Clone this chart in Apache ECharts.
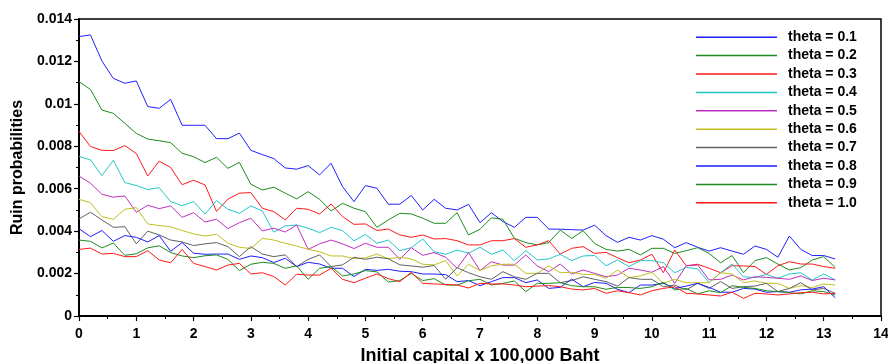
<!DOCTYPE html>
<html>
<head>
<meta charset="utf-8">
<script src="https://cdn.jsdelivr.net/npm/echarts@6/dist/echarts.min.js"></script>
<style>html,body{margin:0;padding:0;background:#fff}#c{width:888px;height:363px}</style>
</head>
<body>
<div id="c"></div>
<script>
const capital = [0,0.2,0.4,0.6,0.8,1,1.2,1.4,1.6,1.8,2,2.2,2.4,2.6,2.8,3,3.2,3.4,3.6,3.8,4,4.2,4.4,4.6,4.8,5,5.2,5.4,5.6,5.8,6,6.2,6.4,6.6,6.8,7,7.2,7.4,7.6,7.8,8,8.2,8.4,8.6,8.8,9,9.2,9.4,9.6,9.8,10,10.2,10.4,10.6,10.8,11,11.2,11.4,11.6,11.8,12,12.2,12.4,12.6,12.8,13,13.2];
const seriesNames = ['theta = 0.1','theta = 0.2','theta = 0.3','theta = 0.4','theta = 0.5','theta = 0.6','theta = 0.7','theta = 0.8','theta = 0.9','theta = 1.0'];
const theta01 = [0.01317,0.01325,0.01202,0.0112,0.01097,0.01108,0.00987,0.00979,0.01021,0.00899,
0.00899,0.00899,0.00836,0.00836,0.00862,0.00781,0.00761,0.00742,0.00698,0.00692,
0.00709,0.00665,0.0072,0.0061,0.00539,0.00615,0.00602,0.00527,0.00527,0.00568,
0.005,0.0055,0.00508,0.005,0.00526,0.0044,0.00487,0.00445,0.00418,0.00465,
0.00465,0.0041,0.00409,0.00407,0.00405,0.00428,0.00379,0.00347,0.00371,0.00358,
0.00379,0.00362,0.00322,0.00346,0.00324,0.00306,0.00322,0.00306,0.00291,0.0033,
0.00314,0.00277,0.00377,0.00314,0.00285,0.00285,0.00269];
const theta02 = [0.01105,0.01068,0.00971,0.00955,0.00908,0.00861,0.00834,0.00826,0.00817,0.00767,
0.00751,0.00723,0.00748,0.00696,0.00724,0.00621,0.00594,0.00607,0.00579,0.00552,
0.00586,0.0055,0.00495,0.00531,0.00508,0.00492,0.00418,0.00453,0.00484,0.00481,
0.00461,0.00437,0.00437,0.00487,0.00382,0.00409,0.00463,0.00456,0.00366,0.00346,
0.00335,0.00346,0.00405,0.00366,0.00402,0.00342,0.00314,0.00306,0.00314,0.00288,
0.00319,0.00319,0.00295,0.00308,0.00322,0.00295,0.00251,0.00285,0.00204,0.00261,
0.00275,0.00245,0.00217,0.00228,0.00264,0.0028,0.00229];
const theta03 = [0.0087,0.00799,0.00781,0.0078,0.00803,0.00766,0.0066,0.0073,0.007,0.00619,
0.0064,0.00618,0.00493,0.00551,0.00579,0.00582,0.00508,0.00492,0.00453,0.00508,
0.00503,0.00481,0.00528,0.00469,0.00432,0.00434,0.00403,0.0041,0.00382,0.00371,
0.00382,0.00363,0.00365,0.00355,0.00335,0.00335,0.00355,0.00355,0.00365,0.00324,
0.00335,0.00355,0.00292,0.00319,0.00327,0.00295,0.003,0.00275,0.00251,0.00264,
0.00291,0.00204,0.00311,0.00237,0.00244,0.00225,0.00204,0.00237,0.00236,0.00233,
0.00196,0.00237,0.00256,0.00245,0.00245,0.00233,0.00225];
const theta04 = [0.00752,0.00736,0.00662,0.00734,0.00629,0.00615,0.00596,0.00605,0.00539,0.0052,
0.00539,0.0048,0.00544,0.00503,0.00484,0.00519,0.00495,0.00395,0.00425,0.00429,
0.00414,0.00393,0.00418,0.00403,0.00354,0.00385,0.00343,0.00358,0.00308,0.00322,
0.00363,0.00303,0.00291,0.00311,0.00296,0.00324,0.00291,0.00311,0.00261,0.00308,
0.00264,0.00269,0.00291,0.00261,0.00283,0.00285,0.00237,0.00264,0.00233,0.00261,
0.00261,0.00251,0.00204,0.00229,0.00222,0.00157,0.00204,0.00245,0.00185,0.00181,
0.00196,0.00178,0.00198,0.00204,0.0017,0.00198,0.0017];
const theta05 = [0.0066,0.00626,0.00574,0.0056,0.00566,0.00489,0.00522,0.00506,0.00519,0.00465,
0.00487,0.00443,0.00456,0.00412,0.0044,0.00461,0.00401,0.00414,0.00396,0.00429,
0.00314,0.0034,0.00358,0.0034,0.00318,0.00343,0.00324,0.00324,0.00267,0.00322,
0.00286,0.00299,0.00277,0.00225,0.00299,0.00214,0.00256,0.0024,0.0024,0.00288,
0.00236,0.00209,0.00245,0.00198,0.00217,0.00201,0.00185,0.00193,0.00225,0.00217,
0.00206,0.00233,0.00154,0.00237,0.0024,0.0017,0.00173,0.00193,0.0017,0.00185,
0.00182,0.00178,0.00173,0.00189,0.00167,0.00178,0.0017];
const theta06 = [0.0055,0.00534,0.00468,0.00456,0.00503,0.00511,0.00434,0.00426,0.00421,0.00403,
0.00387,0.00377,0.00385,0.00343,0.00324,0.00318,0.00366,0.00358,0.00343,0.0033,
0.00314,0.00303,0.00283,0.00283,0.0027,0.00274,0.00292,0.0027,0.00277,0.00269,
0.00244,0.00241,0.00261,0.00189,0.00244,0.00214,0.00237,0.00244,0.00244,0.00201,
0.00201,0.00237,0.00204,0.00206,0.00196,0.00196,0.00178,0.00217,0.00181,0.00189,
0.00206,0.00154,0.00173,0.00157,0.00157,0.00157,0.00204,0.00198,0.00157,0.00165,
0.00154,0.00154,0.0013,0.00143,0.00134,0.00151,0.00146];
const theta07 = [0.00458,0.00489,0.00453,0.00418,0.00421,0.0034,0.004,0.00382,0.00358,0.00349,
0.00332,0.0034,0.00346,0.00327,0.0028,0.00327,0.00292,0.0028,0.00288,0.00233,
0.00267,0.00288,0.00233,0.00241,0.00277,0.00267,0.00277,0.0027,0.00241,0.00236,
0.0023,0.00238,0.00173,0.00228,0.00204,0.00185,0.00173,0.00209,0.00185,0.00173,
0.00201,0.00201,0.00157,0.00167,0.00185,0.00173,0.00162,0.00141,0.00181,0.00173,
0.00173,0.00138,0.00146,0.00123,0.00154,0.0013,0.00162,0.0013,0.00138,0.00141,
0.00154,0.00115,0.0013,0.00157,0.00123,0.0013,0.00107];
const theta08 = [0.00412,0.00374,0.00403,0.00352,0.00379,0.00371,0.00349,0.00379,0.00305,0.00346,
0.00296,0.00291,0.00292,0.00292,0.00267,0.00283,0.00275,0.00252,0.00272,0.00233,
0.00253,0.00245,0.00225,0.00225,0.00186,0.0022,0.00215,0.0022,0.00211,0.00209,
0.00198,0.00198,0.00195,0.00162,0.00167,0.00143,0.00162,0.00181,0.00181,0.00157,
0.0017,0.0013,0.00135,0.00174,0.00138,0.00158,0.00154,0.00126,0.0011,0.00146,
0.00146,0.00154,0.0013,0.00141,0.00154,0.00135,0.00112,0.00112,0.0013,0.00127,
0.00112,0.00115,0.00112,0.00123,0.00127,0.00138,0.00086];
const theta09 = [0.00358,0.00352,0.00321,0.00344,0.00286,0.00293,0.00321,0.00331,0.00299,0.00283,
0.00275,0.00284,0.00288,0.00267,0.00214,0.00244,0.00253,0.00248,0.00225,0.00236,
0.00173,0.00225,0.00233,0.00189,0.00198,0.00214,0.00208,0.0016,0.00167,0.00201,
0.00167,0.00176,0.00146,0.00146,0.00166,0.00173,0.00146,0.00154,0.00165,0.00115,
0.00154,0.00154,0.00157,0.00143,0.00138,0.00138,0.00126,0.00135,0.00134,0.0013,
0.00138,0.00159,0.00123,0.0013,0.00104,0.00119,0.0011,0.00143,0.00135,0.0013,
0.00119,0.00115,0.0011,0.00104,0.00119,0.00115,0.00099];
const theta10 = [0.00314,0.0032,0.00292,0.00295,0.0028,0.0028,0.00308,0.00264,0.00251,0.00314,
0.00248,0.00233,0.00217,0.0024,0.00248,0.00198,0.00204,0.00186,0.00146,0.00197,
0.00193,0.00193,0.00225,0.00173,0.00157,0.00178,0.00198,0.00176,0.00162,0.00206,
0.00154,0.00151,0.00149,0.00146,0.00132,0.00154,0.00151,0.00151,0.00146,0.00138,
0.00141,0.00143,0.00138,0.00127,0.00123,0.0013,0.00107,0.00119,0.0011,0.00099,
0.00119,0.0013,0.00138,0.00107,0.00104,0.00099,0.00094,0.00112,0.00083,0.00107,
0.00104,0.00099,0.00104,0.0011,0.00112,0.00104,0.00107];
const allValues = [theta01,theta02,theta03,theta04,theta05,theta06,theta07,theta08,theta09,theta10];
const colors = ['#1f1fff','#1e8c1e','#ff1a1a','#22c8c8','#c030c0','#c0c020','#606060','#1f1fff','#1e8c1e','#ff1a1a'];

const FONT = 'Liberation Sans, Arial, sans-serif';
const chart = echarts.init(document.getElementById('c'), null, {renderer:'canvas'});
const series = allValues.map((vals, k) => ({
  name: seriesNames[k],
  type: 'line',
  symbol: 'none',
  animation: false,
  lineStyle: {width: 1, color: colors[k]},
  itemStyle: {color: colors[k]},
  data: vals.map((v, i) => [capital[i], v])
}));
chart.setOption({
  backgroundColor: '#fff',
  animation: false,
  color: colors,
  grid: {left: 79, right: 7, top: 19, bottom: 47, containLabel: false, outerBoundsMode: 'none',
    show: true, borderColor: '#000', borderWidth: 1.5, backgroundColor: 'transparent'},
  legend: {
    orient: 'vertical', left: 691, top: 23,
    itemWidth: 81, itemHeight: 1.5, itemGap: 0,
    icon: 'rect',
    data: seriesNames,
    textStyle: {fontFamily: FONT, fontWeight: 'bold', fontSize: 14, color: '#000', lineHeight: 18.4, padding: [0,0,0,6]}
  },
  xAxis: {
    type: 'value', min: 0, max: 14, interval: 1,
    name: 'Initial capital x 100,000 Baht', nameLocation: 'middle', nameGap: 31,
    nameTextStyle: {fontFamily: FONT, fontWeight: 'bold', fontSize: 18, color: '#000'},
    axisLine: {lineStyle: {color: '#000', width: 2}},
    axisTick: {inside: false, length: 5, lineStyle: {color: '#000', width: 1.2}},
    minorTick: {show: true, splitNumber: 2, length: 3, lineStyle: {color: '#000', width: 1}},
    splitLine: {show: false},
    axisLabel: {fontFamily: FONT, fontWeight: 'bold', fontSize: 14, color: '#000', margin: 11}
  },
  yAxis: {
    type: 'value', min: 0, max: 0.014, interval: 0.002,
    name: 'Ruin probabilities', nameLocation: 'middle', nameGap: 49,
    nameTextStyle: {fontFamily: FONT, fontWeight: 'bold', fontSize: 16, color: '#000'},
    axisLine: {show: true, lineStyle: {color: '#000', width: 2}},
    axisTick: {show: true, inside: false, length: 5, lineStyle: {color: '#000', width: 1.2}},
    minorTick: {show: true, splitNumber: 2, length: 3, lineStyle: {color: '#000', width: 1}},
    splitLine: {show: false},
    axisLabel: {fontFamily: FONT, fontWeight: 'bold', fontSize: 14, color: '#000', margin: 7,
      formatter: v => String(+v.toFixed(3))}
  },
  series: series
});
</script>
</body>
</html>
